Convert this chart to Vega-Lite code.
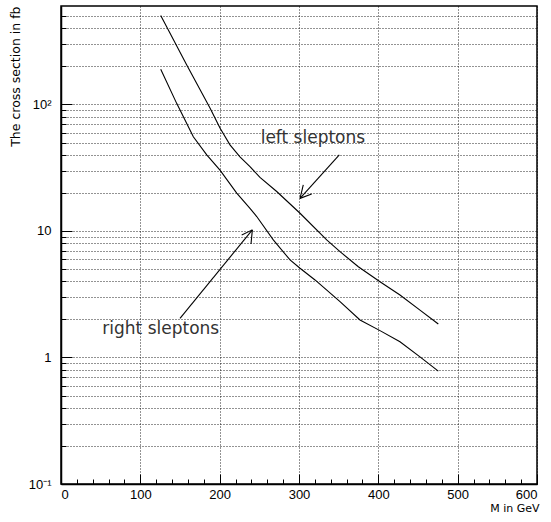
{
  "$schema": "https://vega.github.io/schema/vega-lite/v6.json",
  "width": 476,
  "height": 478,
  "autosize": {"type": "none"},
  "padding": {"left": 61, "top": 6, "right": 14, "bottom": 38},
  "background": "white",
  "config": {
    "view": {"stroke": "#000", "strokeWidth": 1.5},
    "axis": {
      "labelFont": "Liberation Sans",
      "labelFontSize": 13,
      "labelColor": "#000",
      "tickColor": "#000",
      "domainColor": "#000",
      "titleColor": "#000",
      "titleFont": "DejaVu Sans",
      "titleFontWeight": "normal"
    }
  },
  "datasets": {
    "curves": [
      {"series": "left", "x": 125.7, "y": 504},
      {"series": "left", "x": 158.5, "y": 205},
      {"series": "left", "x": 187.8, "y": 93.8},
      {"series": "left", "x": 200.4, "y": 65.2},
      {"series": "left", "x": 213.0, "y": 47.9},
      {"series": "left", "x": 225.6, "y": 38.5},
      {"series": "left", "x": 238.2, "y": 32.2},
      {"series": "left", "x": 250.8, "y": 26.5},
      {"series": "left", "x": 271.9, "y": 20.5},
      {"series": "left", "x": 301.3, "y": 13.8},
      {"series": "left", "x": 334.9, "y": 8.5},
      {"series": "left", "x": 351.7, "y": 6.86},
      {"series": "left", "x": 374.8, "y": 5.22},
      {"series": "left", "x": 402.1, "y": 3.97},
      {"series": "left", "x": 427.3, "y": 3.12},
      {"series": "left", "x": 452.5, "y": 2.37},
      {"series": "left", "x": 475.6, "y": 1.84},
      {"series": "right", "x": 125.7, "y": 190},
      {"series": "right", "x": 145.8, "y": 102},
      {"series": "right", "x": 166.8, "y": 55.6},
      {"series": "right", "x": 183.7, "y": 39.9},
      {"series": "right", "x": 200.4, "y": 30.3},
      {"series": "right", "x": 221.5, "y": 19.9},
      {"series": "right", "x": 238.2, "y": 15.1},
      {"series": "right", "x": 246.7, "y": 13.0},
      {"series": "right", "x": 267.6, "y": 8.5},
      {"series": "right", "x": 288.7, "y": 5.9},
      {"series": "right", "x": 301.3, "y": 5.07},
      {"series": "right", "x": 320.2, "y": 4.1},
      {"series": "right", "x": 351.7, "y": 2.76},
      {"series": "right", "x": 376.9, "y": 1.98},
      {"series": "right", "x": 402.1, "y": 1.63},
      {"series": "right", "x": 427.3, "y": 1.33},
      {"series": "right", "x": 452.5, "y": 1.01},
      {"series": "right", "x": 475.6, "y": 0.78}
    ],
    "arrows": [
      {"x": 350.8, "y": 39.9, "x2": 301.3, "y2": 18.1},
      {"x": 301.3, "y": 18.1, "x2": 305.4, "y2": 23.1},
      {"x": 301.3, "y": 18.1, "x2": 316.0, "y2": 19.6},
      {"x": 150.0, "y": 2.04, "x2": 241.2, "y2": 10.2},
      {"x": 241.2, "y": 10.2, "x2": 227.8, "y2": 9.29},
      {"x": 241.2, "y": 10.2, "x2": 239.5, "y2": 7.89}
    ],
    "labels": [
      {"label": "left sleptons", "x": 251.7, "y": 49.9},
      {"label": "right sleptons", "x": 52.1, "y": 1.535}
    ]
  },
  "layer": [
    {
      "data": {"name": "curves"},
      "mark": {"type": "line", "color": "#000", "strokeWidth": 1.1},
      "encoding": {
        "x": {
          "field": "x", "type": "quantitative",
          "scale": {"domain": [0, 600], "nice": false, "zero": false},
          "axis": {
            "orient": "bottom",
            "values": [20,40,60,80,120,140,160,180,220,240,260,280,320,340,360,380,420,440,460,480,520,540,560,580],
            "tickSize": -5,
            "labels": false,
            "grid": false,
            "domain": true,
            "domainWidth": 1.5,
            "title": null
          }
        },
        "y": {
          "field": "y", "type": "quantitative",
          "scale": {"type": "log", "domain": [0.1, 600], "nice": false},
          "axis": {
            "orient": "left",
            "values": [0.2,0.3,0.4,0.5,0.6,0.7,0.8,0.9,1,2,3,4,5,6,7,8,9,10,20,30,40,50,60,70,80,90,100,200,300,400,500],
            "tickSize": -5,
            "labels": false,
            "grid": true,
            "gridDash": [1, 2],
            "gridColor": "#000",
            "gridOpacity": 0.85,
            "domain": true,
            "domainWidth": 1.5,
            "title": "The cross section in fb",
            "titleFontSize": 12.5,
            "titleAngle": -90,
            "titleAlign": "right",
            "titleBaseline": "middle",
            "titleX": -46,
            "titleY": 0
          }
        },
        "detail": {"field": "series", "type": "nominal"}
      }
    },
    {
      "data": {"name": "arrows"},
      "mark": {"type": "rule", "color": "#000", "strokeWidth": 1.1},
      "encoding": {
        "x": {
          "field": "x", "type": "quantitative",
          "scale": {"domain": [0, 600], "nice": false, "zero": false},
          "axis": {
            "orient": "bottom",
            "values": [0, 100, 200, 300, 400, 500, 600],
            "tickSize": -10,
            "labels": true,
            "labelPadding": 14,
            "grid": true,
            "gridDash": [1, 2],
            "gridColor": "#000",
            "gridOpacity": 0.85,
            "domain": false,
            "title": "M in GeV",
            "titleFontSize": 11,
            "titleAlign": "right",
            "titleBaseline": "middle",
            "titleX": 478,
            "titleY": 24
          }
        },
        "y": {
          "field": "y", "type": "quantitative",
          "scale": {"type": "log", "domain": [0.1, 600], "nice": false},
          "axis": {
            "orient": "left",
            "values": [0.1, 1, 10, 100],
            "tickSize": -11,
            "labels": true,
            "labelPadding": 21,
            "labelExpr": "datum.value < 0.5 ? '10⁻¹' : datum.value > 50 ? '10²' : datum.value < 5 ? '1' : '10'",
            "grid": false,
            "domain": false,
            "title": null
          }
        },
        "x2": {"field": "x2"},
        "y2": {"field": "y2"}
      }
    },
    {
      "data": {"name": "labels"},
      "mark": {"type": "text", "font": "DejaVu Sans", "fontSize": 17, "color": "#333", "align": "left", "baseline": "alphabetic"},
      "encoding": {
        "x": {"field": "x", "type": "quantitative", "scale": {"domain": [0, 600], "nice": false, "zero": false}, "axis": null},
        "y": {"field": "y", "type": "quantitative", "scale": {"type": "log", "domain": [0.1, 600], "nice": false}, "axis": null},
        "text": {"field": "label"}
      }
    }
  ],
  "resolve": {"axis": {"x": "independent", "y": "independent"}}
}
